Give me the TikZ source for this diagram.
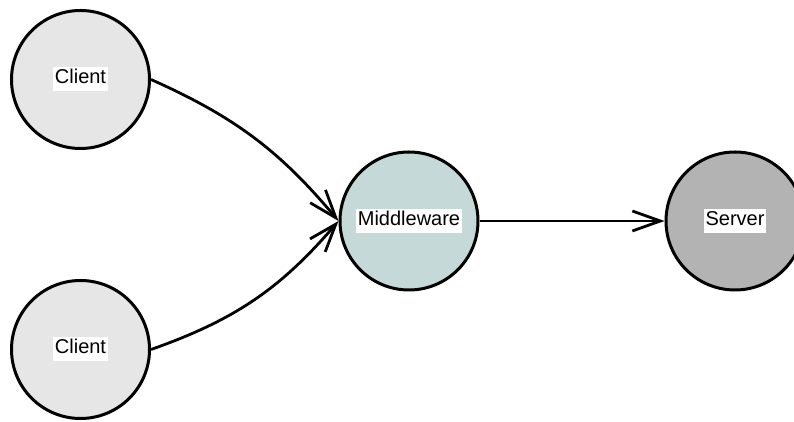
\documentclass[tikz,border=0pt]{standalone}
\usepackage{fontspec}
\setmainfont{Liberation Sans}
\usetikzlibrary{arrows.meta}
\definecolor{clientgray}{HTML}{E6E6E6}
\definecolor{midteal}{HTML}{C5D9D8}
\definecolor{servergray}{HTML}{B3B3B3}

\begin{document}
\begin{tikzpicture}[x=1pt,y=1pt,
    proc/.style={draw,circle,line width=3pt,minimum size=138pt,inner sep=0pt},
    tag/.style={fill=white,inner xsep=2pt,inner ysep=1pt,text height=15.5pt,text depth=6.5pt,font=\fontsize{20}{24}\selectfont},
    link/.style={line width=2.8pt,-{Straight Barb[length=28pt,width=20pt]}}]
    \useasboundingbox (0,0) rectangle (794,422);
    \node[proc,fill=clientgray,label={[tag]center:Client}] (C1) at (80.5,342.5) {};
    \node[proc,fill=clientgray,label={[tag]center:Client}] (C2) at (80.5,72.5) {};
    \node[proc,fill=midteal,label={[tag]center:Middleware}] (M) at (409,201) {};
    \node[proc,fill=servergray,label={[tag]center:Server}] (S) at (735,201) {};
    \draw[link] (C1.east) to[bend left=13] (M.west);
    \draw[link] (C2.east) to[bend right=15] (M.west);
    \draw[link] (M) -- (S);
\end{tikzpicture}
\end{document}
